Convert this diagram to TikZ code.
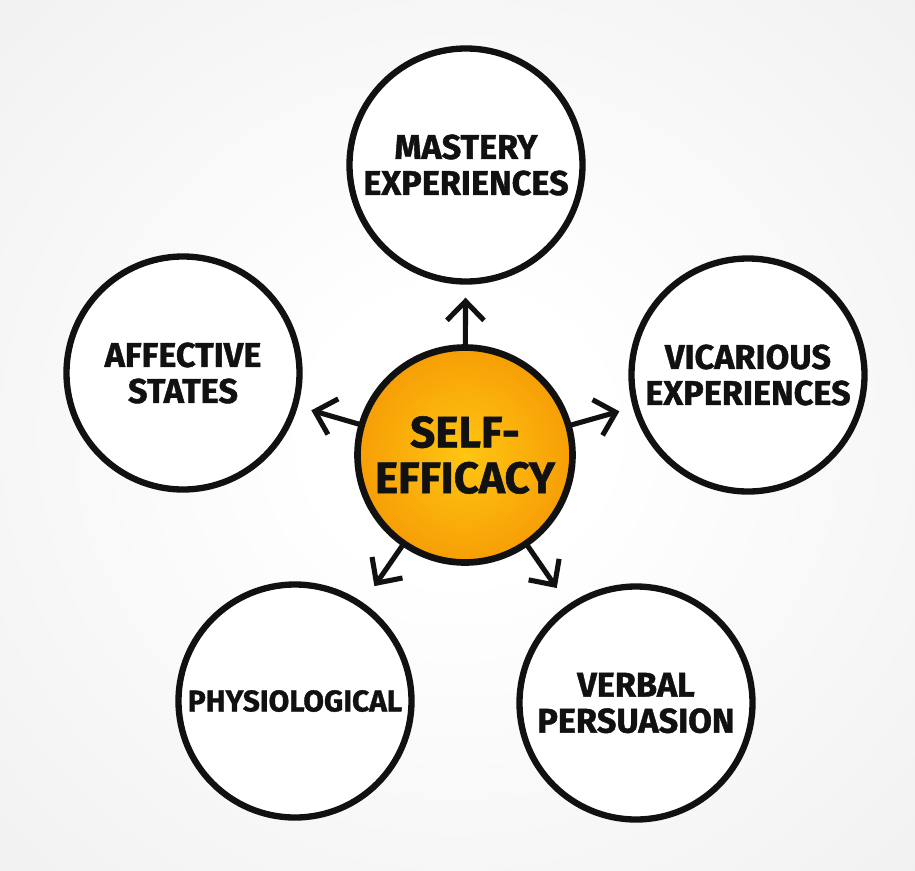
\documentclass[tikz,border=0pt]{standalone}
\usepackage{fontspec}
\setmainfont{Fira Sans}[BoldFeatures={FakeBold=1.2}]
\usetikzlibrary{arrows.meta, positioning, shadings}

\definecolor{bggrey}{RGB}{241,241,241}
\definecolor{orangein}{RGB}{255,198,18}
\definecolor{orangeout}{RGB}{246,158,6}
\definecolor{inkblack}{RGB}{17,17,17}

\pgfdeclareradialshading{bgfade}{\pgfpoint{0bp}{0bp}}{color(0bp)=(white); color(8bp)=(white); color(36bp)=(bggrey); color(50bp)=(bggrey)}

\begin{document}
\begin{tikzpicture}[
    topic/.style={
        circle,
        draw=inkblack,
        line width=3.6pt,
        fill=white,
        minimum size=4.66cm,
        inner sep=0pt,
        align=center,
        text=inkblack,
        font=\fontsize{19.5}{20.5}\selectfont\bfseries
    },
    core/.style={
        circle,
        draw=inkblack,
        line width=3.8pt,
        inner color=orangein,
        outer color=orangeout,
        minimum size=4.3cm,
        inner sep=0pt,
        align=center,
        text=inkblack,
        font=\fontsize{25}{26}\selectfont\bfseries
    },
    arrow/.style={
        -{Straight Barb[length=3.8mm, width=7.4mm]},
        line width=2.9pt,
        draw=inkblack,
        line cap=round
    }
]
    % background
    \shade [shading=bgfade] (0,0) rectangle (18.3,-17.4);
    \useasboundingbox (0,0) rectangle (18.3,-17.4);

    \node [core] (self) at (9.30,-9.10) {SELF-\\EFFICACY};

    \node [topic] (mastery) at (9.32,-3.30) {MASTERY\\EXPERIENCES};
    \node [topic] (affect) at (3.66,-7.46) {AFFECTIVE\\STATES};
    \node [topic] (vicar) at (14.96,-7.50) {VICARIOUS\\EXPERIENCES};
    \node [topic, font=\fontsize{17}{20}\selectfont\bfseries] (physio) at (5.90,-14.02) {PHYSIOLOGICAL};
    \node [topic] (verbal) at (12.72,-14.06) {VERBAL\\PERSUASION};

    \draw [arrow, shorten >=0.26cm] (self) -- (mastery);
    \draw [arrow, shorten >=0.28cm] (self) -- (affect);
    \draw [arrow, shorten >=0.28cm] (self) -- (vicar);
    \draw [arrow, shorten >=0.40cm] (self) -- (physio);
    \draw [arrow, shorten >=0.40cm] (self) -- (verbal);
\end{tikzpicture}
\end{document}
